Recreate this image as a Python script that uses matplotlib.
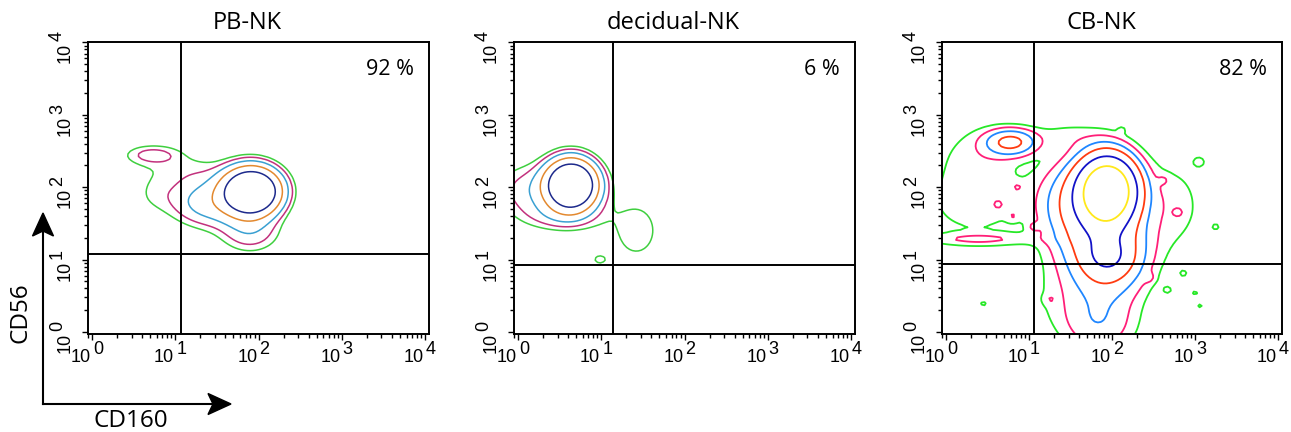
import numpy as np
import matplotlib
matplotlib.use("Agg")
import matplotlib.pyplot as plt
from matplotlib import transforms
from matplotlib.patches import Polygon

# ---------------------------------------------------------------------------
# Panel text
titles = ["PB-NK", "decidual-NK", "CB-NK"]
percent_labels = ["92 %", "6 %", "82 %"]

# Quadrant gates (CD160, CD56)
gate_x = [11.7, 14.0, 11.5]
gate_y = [12.0, 8.5, 8.8]

# Cell populations in log10 space:
# centre CD160, centre CD56, spread CD160, spread CD56, relative weight
pb_cx = [1.915, 1.40, 1.90, 0.72, 0.80, 1.25, 0.75]
pb_cy = [1.940, 1.78, 1.38, 2.45, 2.35, 2.20, 1.90]
pb_sx = [0.21, 0.30, 0.25, 0.22, 0.40, 0.30, 0.22]
pb_sy = [0.20, 0.22, 0.20, 0.09, 0.20, 0.18, 0.20]
pb_w = [1.00, 0.14, 0.09, 0.06, 0.025, 0.03, 0.035]

dec_cx = [0.64, 0.15, 0.50, 1.42, 0.98]
dec_cy = [2.03, 1.95, 1.60, 1.40, 1.00]
dec_sx = [0.185, 0.30, 0.30, 0.35, 0.05]
dec_sy = [0.21, 0.26, 0.15, 0.50, 0.04]
dec_w = [1.00, 0.085, 0.06, 0.047, 0.05]

# main clusters and diffuse fields
cb_cx = [1.95, 1.55, 1.95, 1.95, 1.85, 0.78, 0.35, 2.70, 1.60, 1.45, 0.40, 0.40]
cb_cy = [1.95, 1.75, 1.10, 1.05, 0.10, 2.62, 1.80, 1.75, 0.50, 2.72, 2.50, 1.28]
cb_sx = [0.22, 0.28, 0.30, 0.15, 0.30, 0.20, 0.55, 0.30, 0.50, 0.35, 0.35, 0.45]
cb_sy = [0.30, 0.40, 0.35, 0.15, 0.30, 0.12, 0.45, 0.45, 0.40, 0.15, 0.30, 0.06]
cb_w = [1.00, 0.15, 0.25, 0.10, 0.07, 0.17, 0.04, 0.045, 0.035, 0.03, 0.03, 0.045]
# small dense spots and isolated events
cb_spot_x = [0.86, 0.63, 0.80, 1.05, 2.62, 2.80, 2.45, 1.25,
             0.45, 2.86, 3.00, 3.06, 2.67, 2.12, 3.05, 3.25]
cb_spot_y = [2.00, 1.76, 1.60, 1.45, 2.10, 1.65, 0.75, 0.45,
             0.39, 0.81, 0.54, 0.36, 0.58, 2.80, 2.35, 1.45]
cb_spot_w = [0.028, 0.028, 0.028, 0.025, 0.022, 0.022, 0.025, 0.022,
             0.036, 0.036, 0.036, 0.036, 0.036, 0.02, 0.036, 0.036]
cb_spot_s = [0.05, 0.05, 0.05, 0.05, 0.05, 0.05, 0.05, 0.05,
             0.04, 0.04, 0.04, 0.04, 0.04, 0.04, 0.06, 0.04]

# Contour levels (fraction of peak) and colours, outermost first
pb_levels = [0.04, 0.065, 0.11, 0.21, 0.40]
dec_levels = [0.04, 0.065, 0.11, 0.21, 0.40]
cb_levels = [0.03, 0.055, 0.095, 0.16, 0.30, 0.55]
pb_colors = ["#3fcf3f", "#c2317d", "#3aa0d2", "#e3892f", "#1d2a8c"]
dec_colors = ["#3fcf3f", "#c2317d", "#3aa0d2", "#e3892f", "#1d2a8c"]
cb_colors = ["#27e827", "#ff1f78", "#1f86ff", "#ff3b10", "#1212c8", "#ffe81a"]

decades = [0, 1, 2, 3, 4]

# ---------------------------------------------------------------------------
W, H, DPI = 1291, 432, 100
fig = plt.figure(figsize=(W / DPI, H / DPI), dpi=DPI)
fig.patch.set_facecolor("white")

TICK_FONT = "Liberation Sans"
TEXT_FONT = "Open Sans"
TICK_SIZE = 13

# axes boxes in pixels: left, top, right, bottom
boxes = [(88, 42, 429, 334), (514, 42, 855, 334), (942, 42, 1282, 334)]

grid = np.arange(-0.2, 4.2001, 0.035)
GX, GY = np.meshgrid(grid, grid)


def population_density(cx, cy, sx, sy, w):
    z = np.zeros_like(GX)
    for a, b, c, d, e in zip(cx, cy, sx, sy, w):
        z += e * np.exp(-0.5 * ((GX - a) / c) ** 2 - 0.5 * ((GY - b) / d) ** 2)
    return z


panels = [
    (pb_cx, pb_cy, pb_sx, pb_sy, pb_w, pb_levels, pb_colors),
    (dec_cx, dec_cy, dec_sx, dec_sy, dec_w, dec_levels, dec_colors),
    (cb_cx + cb_spot_x, cb_cy + cb_spot_y, cb_sx + cb_spot_s, cb_sy + cb_spot_s,
     cb_w + cb_spot_w, cb_levels, cb_colors),
]

for i, (box, panel) in enumerate(zip(boxes, panels)):
    l, t, r, b = box
    ax = fig.add_axes([l / W, (H - b) / H, (r - l) / W, (b - t) / H])
    cx, cy, sx, sy, w, levels, colors = panel
    z = population_density(cx, cy, sx, sy, w)
    ax.contour(10 ** GX, 10 ** GY, z, levels=levels, colors=colors,
               linewidths=1.3 if i == 2 else 1.1)

    ax.set_xscale("log")
    ax.set_yscale("log")
    ax.set_xlim(10 ** -0.048, 10 ** 4.048)
    ax.set_ylim(10 ** -0.028, 10 ** 4.004)

    ax.axvline(gate_x[i], color="black", lw=1.4)
    ax.axhline(gate_y[i], color="black", lw=1.4)

    for s in ax.spines.values():
        s.set_linewidth(1.4)
    ax.tick_params(which="major", direction="out", length=4.5, width=1.0)
    ax.tick_params(which="minor", direction="out", length=3.0, width=1.0)
    ax.tick_params(top=False, right=False)
    ax.xaxis.set_major_locator(matplotlib.ticker.LogLocator(base=10, numticks=10))
    ax.yaxis.set_major_locator(matplotlib.ticker.LogLocator(base=10, numticks=10))
    ax.xaxis.set_minor_locator(matplotlib.ticker.LogLocator(base=10, subs=np.arange(2, 10), numticks=20))
    ax.yaxis.set_minor_locator(matplotlib.ticker.LogLocator(base=10, subs=np.arange(2, 10), numticks=20))
    ax.set_xticklabels([])
    ax.set_yticklabels([])
    ax.xaxis.set_minor_formatter(matplotlib.ticker.NullFormatter())
    ax.yaxis.set_minor_formatter(matplotlib.ticker.NullFormatter())

    # decade labels: "10" with a raised exponent of the same size
    for k in decades:
        tb = transforms.offset_copy(ax.get_xaxis_transform(), fig=fig, x=-1, y=-28, units="dots")
        te = transforms.offset_copy(ax.get_xaxis_transform(), fig=fig, x=1, y=-20, units="dots")
        ax.text(10 ** k, 0, "10", transform=tb, ha="right", va="baseline",
                fontsize=TICK_SIZE, family=TICK_FONT)
        ax.text(10 ** k, 0, str(k), transform=te, ha="left", va="baseline",
                fontsize=TICK_SIZE, family=TICK_FONT)
        tb = transforms.offset_copy(ax.get_yaxis_transform(), fig=fig, x=-18, y=-1, units="dots")
        te = transforms.offset_copy(ax.get_yaxis_transform(), fig=fig, x=-26, y=1, units="dots")
        ax.text(0, 10 ** k, "10", transform=tb, ha="right", va="baseline", rotation=90,
                rotation_mode="anchor", fontsize=TICK_SIZE, family=TICK_FONT)
        ax.text(0, 10 ** k, str(k), transform=te, ha="left", va="baseline", rotation=90,
                rotation_mode="anchor", fontsize=TICK_SIZE, family=TICK_FONT)

    ax.text(0.955, 0.905, percent_labels[i], transform=ax.transAxes, ha="right",
            va="center", fontsize=15.5, family=TEXT_FONT)
    fig.text((l + r) / 2 / W - 11 / W, 1 - 23 / H, titles[i], ha="center", va="center",
             fontsize=17, family=TEXT_FONT)


# Axis-orientation arrows with their marker names
def arrow_head(tip, direction):
    x, y = tip
    L, half, notch = 23, 10.5, 5
    if direction == "up":
        pts = [(x, y), (x - half, y - L), (x, y - L + notch), (x + half, y - L)]
    else:
        pts = [(x, y), (x - L, y + half), (x - L + notch, y), (x - L, y - half)]
    return [(px / W, py / H) for px, py in pts]


ox, oy = 43, H - 404
fig.add_artist(plt.Line2D([ox / W, ox / W], [oy / H, (H - 228) / H], color="black", lw=1.5))
fig.add_artist(plt.Line2D([ox / W, 214 / W], [oy / H, oy / H], color="black", lw=1.5))
fig.add_artist(Polygon(arrow_head((ox, H - 213), "up"), closed=True, color="black",
                       transform=fig.transFigure))
fig.add_artist(Polygon(arrow_head((231, oy), "right"), closed=True, color="black",
                       transform=fig.transFigure))

fig.text(21 / W, 1 - 313 / H, "CD56", rotation=90, ha="center", va="center",
         fontsize=17.5, family=TEXT_FONT)
fig.text(131 / W, 1 - 421 / H, "CD160", ha="center", va="center",
         fontsize=17.5, family=TEXT_FONT)

fig.savefig("out.png", dpi=DPI, facecolor="white")
